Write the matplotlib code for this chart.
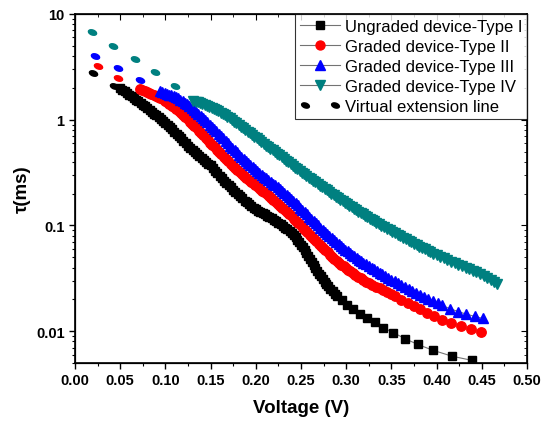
import matplotlib
matplotlib.use('Agg')
import matplotlib.pyplot as plt
from matplotlib.lines import Line2D
from matplotlib.markers import MarkerStyle
from matplotlib.transforms import Affine2D
from matplotlib.legend_handler import HandlerLine2D
from matplotlib.ticker import MultipleLocator, FuncFormatter, LogLocator, NullFormatter

plt.rcParams['font.family'] = ['Liberation Sans', 'DejaVu Sans']

# Type I (ungraded)
v1 = [0.050, 0.0525, 0.055, 0.0575, 0.060, 0.0625, 0.065, 0.0675, 0.070, 0.0725,
      0.075, 0.0775, 0.080, 0.0825, 0.085, 0.0875, 0.090, 0.0925, 0.095, 0.0975,
      0.100, 0.1025, 0.105, 0.1075, 0.110, 0.1125, 0.115, 0.1175, 0.120, 0.1225,
      0.125, 0.1275, 0.130, 0.1325, 0.135, 0.1375, 0.140, 0.1425, 0.145, 0.1475,
      0.150, 0.1525, 0.155, 0.1575, 0.160, 0.1625, 0.165, 0.1675, 0.170, 0.1725,
      0.175, 0.1775, 0.180, 0.1825, 0.185, 0.1875, 0.190, 0.1925, 0.195, 0.1975,
      0.200, 0.2025, 0.205, 0.2075, 0.210, 0.2125, 0.215, 0.2175, 0.220, 0.2225,
      0.225, 0.2275, 0.230, 0.2325, 0.235, 0.2375, 0.240, 0.242, 0.244, 0.246,
      0.248, 0.250, 0.252, 0.254, 0.256, 0.258, 0.260, 0.262, 0.264, 0.266,
      0.268, 0.270, 0.272, 0.274, 0.276, 0.278, 0.280, 0.2825, 0.285, 0.2875,
      0.290, 0.295, 0.301, 0.3075, 0.315, 0.323, 0.332, 0.341, 0.352, 0.365,
      0.379, 0.396, 0.417, 0.439]
t1 = [2.00, 1.92, 1.85, 1.78, 1.72, 1.66, 1.60, 1.54, 1.49, 1.44,
      1.39, 1.34, 1.29, 1.24, 1.19, 1.145, 1.10, 1.055, 1.01, 0.97,
      0.93, 0.89, 0.85, 0.81, 0.77, 0.735, 0.70, 0.665, 0.63, 0.60,
      0.57, 0.545, 0.52, 0.495, 0.47, 0.45, 0.43, 0.415, 0.40, 0.385,
      0.37, 0.35, 0.33, 0.312, 0.295, 0.28, 0.265, 0.252, 0.24, 0.229,
      0.218, 0.208, 0.198, 0.189, 0.180, 0.172, 0.165, 0.158, 0.152, 0.147,
      0.142, 0.138, 0.134, 0.130, 0.127, 0.1235, 0.12, 0.1165, 0.113, 0.1095,
      0.106, 0.1025, 0.099, 0.0955, 0.092, 0.088, 0.084, 0.0805, 0.077, 0.073,
      0.069, 0.0655, 0.062, 0.0585, 0.055, 0.0515, 0.048, 0.045, 0.042, 0.0395,
      0.037, 0.035, 0.033, 0.031, 0.0295, 0.028, 0.0265, 0.0251, 0.0238, 0.0226,
      0.0215, 0.0198, 0.0178, 0.0161, 0.0146, 0.0133, 0.0121, 0.0108, 0.0097, 0.0085,
      0.0075, 0.0066, 0.0058, 0.0053]

# Type II
v2 = [0.072, 0.0745, 0.077, 0.0795, 0.082, 0.0845, 0.087, 0.0895, 0.092, 0.0945,
      0.097, 0.0995, 0.102, 0.1045, 0.107, 0.1095, 0.112, 0.1145, 0.117, 0.1195,
      0.122, 0.1245, 0.127, 0.1295, 0.132, 0.1345, 0.137, 0.1395, 0.142, 0.1445,
      0.147, 0.1495, 0.152, 0.1545, 0.157, 0.1595, 0.162, 0.1645, 0.167, 0.1695,
      0.172, 0.1745, 0.177, 0.1795, 0.182, 0.1845, 0.187, 0.1895, 0.192, 0.1945,
      0.197, 0.1995, 0.202, 0.2045, 0.207, 0.2095, 0.212, 0.2145, 0.217, 0.2195,
      0.222, 0.2245, 0.227, 0.2295, 0.232, 0.2345, 0.237, 0.2395, 0.242, 0.2445,
      0.247, 0.2495, 0.252, 0.2545, 0.257, 0.2595, 0.262, 0.2645, 0.267, 0.2695,
      0.272, 0.2745, 0.277, 0.2795, 0.282, 0.2845, 0.287, 0.2895, 0.292, 0.2945,
      0.297, 0.2995, 0.302, 0.3045, 0.307, 0.310, 0.313, 0.316, 0.319, 0.322,
      0.3255, 0.329, 0.333, 0.337, 0.341, 0.345, 0.3495, 0.354, 0.361, 0.368,
      0.375, 0.382, 0.389, 0.397, 0.406, 0.416, 0.427, 0.438, 0.449]
t2 = [1.94, 1.90, 1.86, 1.825, 1.79, 1.755, 1.72, 1.685, 1.65, 1.605,
      1.56, 1.51, 1.46, 1.41, 1.36, 1.31, 1.26, 1.21, 1.16, 1.11,
      1.06, 1.01, 0.96, 0.915, 0.87, 0.83, 0.79, 0.75, 0.71, 0.675,
      0.64, 0.607, 0.575, 0.547, 0.52, 0.495, 0.47, 0.447, 0.425, 0.405,
      0.385, 0.367, 0.35, 0.335, 0.32, 0.306, 0.293, 0.281, 0.27, 0.26,
      0.25, 0.241, 0.232, 0.223, 0.214, 0.206, 0.198, 0.19, 0.183, 0.175,
      0.168, 0.161, 0.154, 0.147, 0.141, 0.1345, 0.128, 0.122, 0.116, 0.1105,
      0.105, 0.100, 0.095, 0.0905, 0.086, 0.082, 0.078, 0.0745, 0.071, 0.0675,
      0.064, 0.061, 0.058, 0.0555, 0.053, 0.0507, 0.0485, 0.0465, 0.0445, 0.0427,
      0.041, 0.0395, 0.038, 0.0367, 0.0355, 0.0341, 0.0328, 0.0316, 0.0305, 0.0295,
      0.0284, 0.0274, 0.0264, 0.0254, 0.0244, 0.0235, 0.0225, 0.0214, 0.0199, 0.0186,
      0.0173, 0.0161, 0.0149, 0.0138, 0.0128, 0.0119, 0.0111, 0.0104, 0.0098]

# Type III
v3 = [0.094, 0.0965, 0.099, 0.1015, 0.104, 0.1065, 0.109, 0.1115, 0.114, 0.1165,
      0.119, 0.1215, 0.124, 0.1265, 0.129, 0.1315, 0.134, 0.1365, 0.139, 0.1415,
      0.144, 0.1465, 0.149, 0.1515, 0.154, 0.1565, 0.159, 0.1615, 0.164, 0.1665,
      0.169, 0.1715, 0.174, 0.1765, 0.179, 0.1815, 0.184, 0.1865, 0.189, 0.1915,
      0.194, 0.1965, 0.199, 0.2015, 0.204, 0.2065, 0.209, 0.2115, 0.214, 0.2165,
      0.219, 0.2215, 0.224, 0.2265, 0.229, 0.2315, 0.234, 0.2365, 0.239, 0.2415,
      0.244, 0.2465, 0.249, 0.2515, 0.254, 0.2565, 0.259, 0.2615, 0.264, 0.2665,
      0.269, 0.2715, 0.274, 0.2765, 0.279, 0.2815, 0.284, 0.2865, 0.289, 0.2915,
      0.294, 0.2965, 0.299, 0.3015, 0.304, 0.3065, 0.309, 0.3115, 0.314, 0.3165,
      0.319, 0.322, 0.325, 0.328, 0.331, 0.334, 0.337, 0.340, 0.343, 0.3465,
      0.350, 0.3535, 0.357, 0.361, 0.365, 0.369, 0.373, 0.3775, 0.382, 0.3865,
      0.391, 0.396, 0.401, 0.406, 0.415, 0.424, 0.433, 0.442, 0.451]
t3 = [1.87, 1.835, 1.80, 1.765, 1.73, 1.695, 1.66, 1.625, 1.59, 1.545,
      1.50, 1.45, 1.40, 1.35, 1.30, 1.245, 1.19, 1.14, 1.09, 1.04,
      0.99, 0.945, 0.90, 0.86, 0.82, 0.78, 0.74, 0.705, 0.67, 0.635,
      0.60, 0.57, 0.54, 0.515, 0.49, 0.467, 0.445, 0.425, 0.405, 0.387,
      0.37, 0.355, 0.34, 0.326, 0.313, 0.301, 0.29, 0.279, 0.268, 0.258,
      0.248, 0.239, 0.23, 0.221, 0.212, 0.2035, 0.195, 0.1865, 0.178, 0.17,
      0.162, 0.1545, 0.147, 0.14, 0.133, 0.127, 0.121, 0.1155, 0.11, 0.105,
      0.100, 0.0955, 0.091, 0.087, 0.083, 0.0795, 0.076, 0.0725, 0.069, 0.0665,
      0.064, 0.0615, 0.059, 0.057, 0.055, 0.053, 0.051, 0.0492, 0.0475, 0.046,
      0.0445, 0.0428, 0.0413, 0.0398, 0.0384, 0.037, 0.0357, 0.0344, 0.0332, 0.0319,
      0.0307, 0.0296, 0.0285, 0.0273, 0.0262, 0.0251, 0.0241, 0.0231, 0.0221, 0.0211,
      0.0202, 0.0193, 0.0184, 0.0175, 0.0163, 0.0153, 0.0145, 0.0138, 0.0132]

# Type IV
v4 = [0.131, 0.1335, 0.136, 0.1385, 0.141, 0.1435, 0.146, 0.1485, 0.151, 0.1535,
      0.156, 0.1585, 0.161, 0.1635, 0.166, 0.1685, 0.171, 0.1735, 0.176, 0.1785,
      0.181, 0.1835, 0.186, 0.1885, 0.191, 0.1935, 0.196, 0.1985, 0.201, 0.2035,
      0.206, 0.2085, 0.211, 0.2135, 0.216, 0.2185, 0.221, 0.2235, 0.226, 0.2285,
      0.231, 0.2335, 0.236, 0.2385, 0.241, 0.2435, 0.246, 0.2485, 0.251, 0.2535,
      0.256, 0.2585, 0.261, 0.2635, 0.266, 0.2685, 0.271, 0.2735, 0.276, 0.2785,
      0.281, 0.2835, 0.286, 0.2885, 0.291, 0.2935, 0.296, 0.2985, 0.301, 0.3035,
      0.306, 0.3085, 0.311, 0.3135, 0.316, 0.3185, 0.321, 0.3235, 0.326, 0.3285,
      0.331, 0.3335, 0.336, 0.339, 0.342, 0.345, 0.348, 0.351, 0.354, 0.357,
      0.360, 0.363, 0.366, 0.369, 0.372, 0.375, 0.378, 0.381, 0.384, 0.387,
      0.390, 0.393, 0.396, 0.400, 0.404, 0.408, 0.412, 0.416, 0.420, 0.424,
      0.428, 0.432, 0.436, 0.440, 0.444, 0.448, 0.452, 0.456, 0.460, 0.464,
      0.467]
t4 = [1.50, 1.48, 1.46, 1.435, 1.41, 1.385, 1.36, 1.33, 1.30, 1.27,
      1.24, 1.205, 1.17, 1.135, 1.10, 1.065, 1.03, 0.995, 0.96, 0.925,
      0.89, 0.86, 0.83, 0.80, 0.77, 0.742, 0.715, 0.69, 0.665, 0.64,
      0.615, 0.592, 0.57, 0.55, 0.53, 0.512, 0.495, 0.477, 0.46, 0.442,
      0.425, 0.41, 0.395, 0.381, 0.367, 0.353, 0.34, 0.328, 0.316, 0.305,
      0.294, 0.284, 0.274, 0.2645, 0.255, 0.2465, 0.238, 0.23, 0.222, 0.2145,
      0.207, 0.200, 0.193, 0.1865, 0.18, 0.1745, 0.169, 0.164, 0.159, 0.154,
      0.149, 0.1445, 0.14, 0.1355, 0.131, 0.127, 0.123, 0.1195, 0.116, 0.1125,
      0.109, 0.106, 0.103, 0.0995, 0.096, 0.093, 0.090, 0.087, 0.084, 0.0813,
      0.0788, 0.0764, 0.074, 0.0716, 0.0692, 0.0668, 0.0648, 0.063, 0.0612, 0.0594,
      0.0576, 0.0559, 0.0542, 0.0522, 0.0503, 0.0487, 0.0471, 0.0455, 0.044, 0.0425,
      0.0411, 0.0398, 0.0385, 0.0372, 0.0359, 0.0346, 0.0333, 0.032, 0.0307, 0.0293,
      0.0282]

# virtual extension dots
ev1 = [0.020, 0.0435]
et1 = [2.75, 2.09]
ev2 = [0.025, 0.048]
et2 = [3.25, 2.50]
ev3 = [0.0225, 0.048, 0.072]
et3 = [4.0, 3.1, 2.4]
ev4 = [0.019, 0.042, 0.066, 0.089, 0.111]
et4 = [6.8, 5.0, 3.75, 2.8, 2.07]

labels = ['Ungraded device-Type I', 'Graded device-Type II',
          'Graded device-Type III', 'Graded device-Type IV',
          'Virtual extension line']
teal = '#008080'

fig = plt.figure(figsize=(5.48, 4.27), dpi=100)
ax = fig.add_axes([0.1369, 0.1475, 0.8248, 0.8174])

dot = MarkerStyle('o', transform=Affine2D().scale(1.7, 1.0).rotate_deg(-20))
for ev, et, c in [(ev1, et1, 'k'), (ev2, et2, 'r'), (ev3, et3, 'b'), (ev4, et4, teal)]:
    ax.plot(ev, et, ls='none', marker=dot, ms=3.6, color=c)

h1, = ax.plot(v1, t1, '-', color='0.45', lw=0.8, marker='s', ms=6.2, mfc='k', mec='k')
h2, = ax.plot(v2, t2, '-', color='0.45', lw=0.8, marker='o', ms=6.8, mfc='r', mec='r')
h3, = ax.plot(v3, t3, '-', color='0.45', lw=0.8, marker='^', ms=7.3, mfc='b', mec='b')
h4, = ax.plot(v4, t4, '-', color='0.45', lw=0.8, marker='v', ms=7.3, mfc=teal, mec=teal)
h5 = Line2D([], [], ls='none', marker=dot, ms=3.6, color='k')

ax.set_yscale('log')
ax.set_xlim(0, 0.5)
ax.set_ylim(0.005, 10)
ax.xaxis.set_major_locator(MultipleLocator(0.05))
ax.xaxis.set_minor_locator(MultipleLocator(0.025))
ax.xaxis.set_major_formatter(FuncFormatter(lambda x, _: '%.2f' % x))
ax.yaxis.set_major_locator(LogLocator(base=10))
ax.yaxis.set_minor_locator(LogLocator(base=10, subs=range(2, 10)))
ax.yaxis.set_major_formatter(FuncFormatter(lambda y, _: '%g' % y))
ax.yaxis.set_minor_formatter(NullFormatter())
ax.tick_params(which='major', direction='out', length=4, width=1, labelsize=10.5)
ax.tick_params(which='minor', direction='out', length=2.2, width=0.8)
for lab in ax.get_xticklabels() + ax.get_yticklabels():
    lab.set_fontweight('bold')
for s in ax.spines.values():
    s.set_linewidth(1.2)

# inward ticks on top and right
axt = ax.twiny()
axt.set_xlim(0, 0.5)
axt.xaxis.set_major_locator(MultipleLocator(0.05))
axt.xaxis.set_minor_locator(MultipleLocator(0.025))
axt.tick_params(which='both', direction='in', labeltop=False)
axt.tick_params(which='major', length=4)
axt.tick_params(which='minor', length=2.2)
axr = ax.twinx()
axr.set_yscale('log')
axr.set_ylim(0.005, 10)
axr.yaxis.set_minor_locator(LogLocator(base=10, subs=range(2, 10)))
axr.tick_params(which='both', direction='in', labelright=False)
axr.tick_params(which='major', length=4)
axr.tick_params(which='minor', length=2.2)

ax.set_xlabel('Voltage (V)', fontsize=13.5, fontweight='bold', labelpad=8)
ax.set_ylabel('τ(ms)', fontsize=13.5, fontweight='bold', labelpad=4)

leg = axr.legend([h1, h2, h3, h4, h5], labels, loc='upper right',
                 bbox_to_anchor=(1, 1), borderaxespad=0, fontsize=12,
                 fancybox=False, handlelength=2.4, handletextpad=0.25,
                 labelspacing=0.3, borderpad=0.3, markerscale=0.95,
                 handler_map={h5: HandlerLine2D(numpoints=2)})
leg.get_frame().set_edgecolor('k')
leg.get_frame().set_linewidth(0.8)

fig.savefig('out.png', dpi=100)
